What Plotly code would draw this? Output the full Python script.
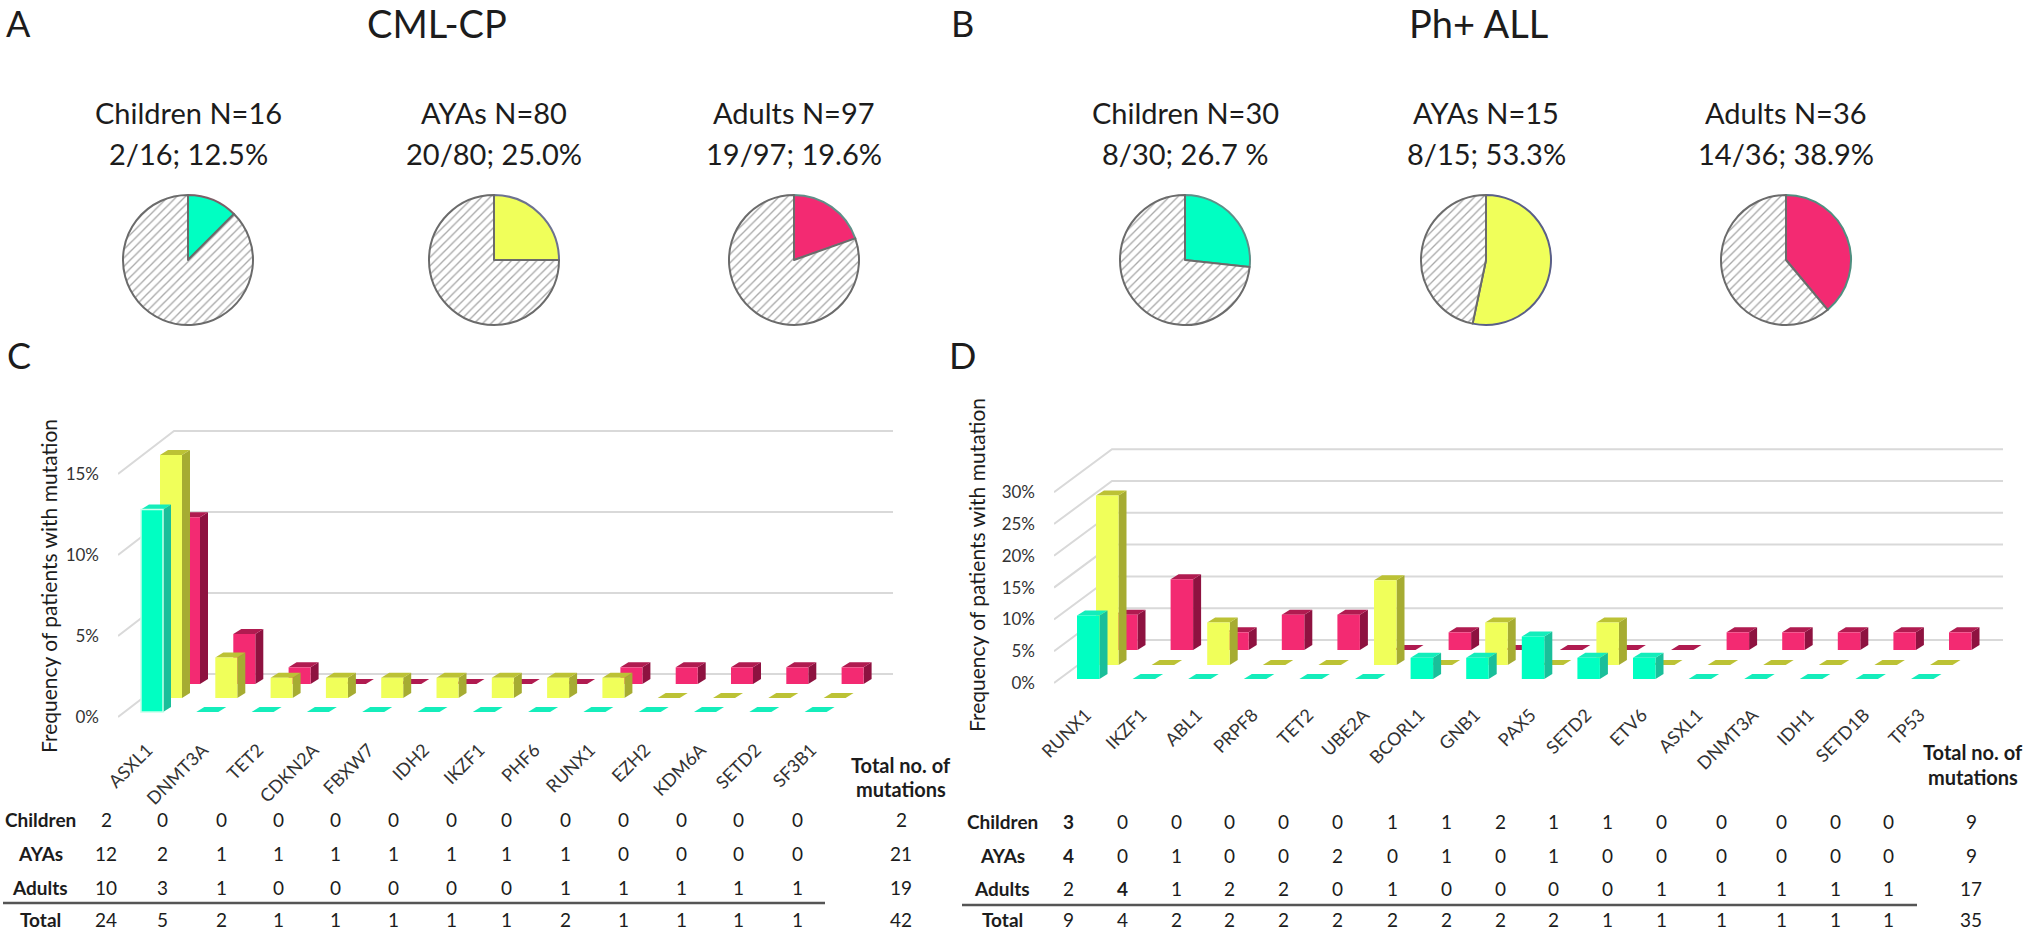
import plotly.graph_objects as go

W, H = 2025, 930
FONT = "Lato"

# ---------- data ----------
pie_titles = ["Children N=16", "AYAs N=80", "Adults N=97", "Children N=30", "AYAs N=15", "Adults N=36"]
pie_notes = ["2/16; 12.5%", "20/80; 25.0%", "19/97; 19.6%", "8/30; 26.7 %", "8/15; 53.3%", "14/36; 38.9%"]
pie_values = [12.5, 25.0, 19.6, 26.7, 53.3, 38.9]

c_genes = ["ASXL1", "DNMT3A", "TET2", "CDKN2A", "FBXW7", "IDH2", "IKZF1", "PHF6", "RUNX1", "EZH2", "KDM6A", "SETD2", "SF3B1"]
c_children_pct = [12.5, 0, 0, 0, 0, 0, 0, 0, 0, 0, 0, 0, 0]
c_ayas_pct = [15.0, 2.5, 1.25, 1.25, 1.25, 1.25, 1.25, 1.25, 1.25, 0, 0, 0, 0]
c_adults_pct = [10.3, 3.09, 1.03, 0, 0, 0, 0, 0, 1.03, 1.03, 1.03, 1.03, 1.03]
c_ticks = [0, 5, 10, 15]

c_children_n = [2, 0, 0, 0, 0, 0, 0, 0, 0, 0, 0, 0, 0]
c_ayas_n = [12, 2, 1, 1, 1, 1, 1, 1, 1, 0, 0, 0, 0]
c_adults_n = [10, 3, 1, 0, 0, 0, 0, 0, 1, 1, 1, 1, 1]
c_total_n = [24, 5, 2, 1, 1, 1, 1, 1, 2, 1, 1, 1, 1]
c_row_totals = [2, 21, 19, 42]

d_genes = ["RUNX1", "IKZF1", "ABL1", "PRPF8", "TET2", "UBE2A", "BCORL1", "GNB1", "PAX5", "SETD2", "ETV6", "ASXL1", "DNMT3A", "IDH1", "SETD1B", "TP53"]
d_children_pct = [10.0, 0, 0, 0, 0, 0, 3.33, 3.33, 6.67, 3.33, 3.33, 0, 0, 0, 0, 0]
d_ayas_pct = [26.67, 0, 6.67, 0, 0, 13.33, 0, 6.67, 0, 6.67, 0, 0, 0, 0, 0, 0]
d_adults_pct = [5.56, 11.11, 2.78, 5.56, 5.56, 0, 2.78, 0, 0, 0, 0, 2.78, 2.78, 2.78, 2.78, 2.78]
d_ticks = [0, 5, 10, 15, 20, 25, 30]

d_children_n = [3, 0, 0, 0, 0, 0, 1, 1, 2, 1, 1, 0, 0, 0, 0, 0]
d_ayas_n = [4, 0, 1, 0, 0, 2, 0, 1, 0, 1, 0, 0, 0, 0, 0, 0]
d_adults_n = [2, 4, 1, 2, 2, 0, 1, 0, 0, 0, 0, 1, 1, 1, 1, 1]
d_total_n = [9, 4, 2, 2, 2, 2, 2, 2, 2, 2, 1, 1, 1, 1, 1, 1]
d_row_totals = [9, 9, 17, 35]

row_names = ["Children", "AYAs", "Adults", "Total"]

# ---------- styles ----------
TEAL = dict(front="#00FFC2", side="#1ABF9A", top="#14EDBB")
YEL = dict(front="#F0FF5A", side="#A6AC32", top="#BCC235")
PINK = dict(front="#F32A72", side="#8E1240", top="#B01B50")
GRID = "#D9D9D9"
TXT = "#1c1c1c"

pie_cx = [188, 494, 794, 1185, 1486, 1786]
pie_cy = 260
pie_r = 65
pie_colors = [TEAL["front"], YEL["front"], PINK["front"], TEAL["front"], YEL["front"], PINK["front"]]
pie_edges = ["#7d6068", "#6d7290", "#5f8f88", "#5f8f88", "#5a5f88", "#4f8f80"]

fig = go.Figure()
annots = []


def text(x, y, s, size, bold=False, angle=0, color=TXT, anchor="center"):
    annots.append(dict(
        x=x / W, y=1 - y / H, xref="paper", yref="paper", text=f"<b>{s}</b>" if bold else str(s),
        showarrow=False, xanchor=anchor, yanchor="middle", textangle=angle,
        font=dict(family=FONT, size=size, color=color)))


# ---------- pies ----------
for cx, val, col, edge, t1, t2 in zip(pie_cx, pie_values, pie_colors, pie_edges, pie_titles, pie_notes):
    fig.add_trace(go.Pie(
        values=[val, 100 - val], sort=False, direction="clockwise", rotation=0,
        textinfo="none", hoverinfo="skip", showlegend=False,
        domain=dict(x=[(cx - pie_r) / W, (cx + pie_r) / W],
                    y=[1 - (pie_cy + pie_r) / H, 1 - (pie_cy - pie_r) / H]),
        marker=dict(colors=[col, "white"],
                    line=dict(color=[edge, "#6b6b6b"], width=2),
                    pattern=dict(shape=["", "/"], fgcolor="#a8a8a8", bgcolor="white", size=6, solidity=0.22)),
    ))
    text(cx, 113, t1, 29)
    text(cx, 153, t2, 29)

text(437, 23, "CML-CP", 38)
text(1478, 23, "Ph+ ALL", 38)
text(18, 23, "A", 36)
text(962, 23, "B", 36)
text(19, 355, "C", 36)
text(962, 355, "D", 36)


# ---------- 3D-looking bar panels ----------
def rows_order(rows, lifts):
    # pink (back), yellow, teal (front)
    pals = [TEAL, YEL, PINK]
    return [(rows[k], lifts[k], pals[k]) for k in (2, 1, 0)]


def panel(xa, ya, xname, yname, genes, rows, ticks, step, x_first, x_front, x_back, x_end,
          ppu, y_zero, y_bottom, y_top, lifts, back_lift, face, tickend, base_z, outline_first=False):
    n = len(genes)
    to_cat = lambda px: px / step
    to_pct = lambda px: px / ppu
    back_dx, back_dy = to_cat(x_back - x_front), to_pct(back_lift)
    x_low = (x_front - x_first) / step
    x_high = (x_end - x_first) / step

    gx, gy = [], []
    for t in ticks:
        gx += [x_low, x_low + back_dx, x_high, None]
        gy += [t, t + back_dy, t + back_dy, None]
    fig.add_trace(go.Scatter(x=gx, y=gy, mode="lines", line=dict(color=GRID, width=2), xaxis=xname, yaxis=yname,
                             showlegend=False, hoverinfo="skip", zorder=base_z))

    depth_x, depth_y = to_cat(8), to_pct(5)
    w = to_cat(face)
    z = base_z + 1
    for values, (off_px, lift_px), pal in rows_order(rows, lifts):
        off = to_cat(off_px)
        lift = to_pct(lift_px)
        tx, ty, sx, sy = [], [], [], []
        for i, v in enumerate(values):
            l = i + off
            r = l + w
            top = lift + v
            tx += [l, r, r + depth_x, l + depth_x, l, None]
            ty += [top, top, top + depth_y, top + depth_y, top, None]
            if v > 0:
                sx += [r, r + depth_x, r + depth_x, r, r, None]
                sy += [lift, lift + depth_y, top + depth_y, top, lift, None]
        edge_w = 0
        if outline_first and pal is TEAL:
            edge_w = [1.5] + [0] * (n - 1)
        for px, py, c in ((sx, sy, pal["side"]), (tx, ty, pal["top"])):
            fig.add_trace(go.Scatter(x=px, y=py, mode="lines", fill="toself", fillcolor=c, line=dict(width=0),
                                     xaxis=xname, yaxis=yname, showlegend=False, hoverinfo="skip", zorder=z))
            z += 1
        fig.add_trace(go.Bar(x=list(range(n)), y=values, base=lift, width=w, offset=off,
                             marker=dict(color=pal["front"], line=dict(width=edge_w, color="#C8FFEC")),
                             xaxis=xname, yaxis=yname, showlegend=False, hoverinfo="skip", zorder=z))
        z += 1

    fig.update_layout({
        xa: dict(domain=[x_front / W, x_end / W], range=[x_low, x_high], anchor=yname, showgrid=False,
                 zeroline=False, showline=False, ticks="", tickmode="array",
                 tickvals=[i + tickend for i in range(n)], ticktext=genes, tickangle=-45, automargin=False,
                 tickfont=dict(family=FONT, size=18, color="#333333"), ticklabelstandoff=0),
        ya: dict(domain=[1 - y_bottom / H, 1 - y_top / H],
                 range=[(y_zero - y_bottom) / ppu, (y_zero - y_top) / ppu], anchor=xname, showgrid=False,
                 zeroline=False, showline=False, ticks="", tickmode="array", tickvals=ticks, automargin=False,
                 ticktext=[f"{t}%" for t in ticks], tickfont=dict(family=FONT, size=17, color="#333333"),
                 ticklabelstandoff=18),
    })


panel("xaxis", "yaxis", "x", "y", c_genes, [c_children_pct, c_ayas_pct, c_adults_pct], c_ticks,
      55.3, 141, 118, 174, 893, 16.2, 717, 735, 400,
      [(0, 5), (19, 19), (37, 33)], 43, 22, 0.12, 1, outline_first=True)
panel("xaxis2", "yaxis2", "x2", "y2", d_genes, [d_children_pct, d_ayas_pct, d_adults_pct], d_ticks,
      55.6, 1077, 1054, 1112, 2003, 6.36, 683, 700, 400,
      [(0, 4), (19, 18), (38, 33)], 43, 22.5, 0.16, 50)

text(48, 586, "Frequency of patients with mutation", 21, angle=-90)
text(976, 565, "Frequency of patients with mutation", 21, angle=-90)

# ---------- count tables ----------
c_cols = [106, 162, 221, 278, 335, 393, 451, 507, 565, 623, 681, 738, 797]
c_rows_y = [819, 853, 887, 919]
d_cols = [1068, 1122, 1176, 1229, 1283, 1337, 1392, 1446, 1500, 1553, 1607, 1661, 1721, 1781, 1835, 1888]
d_rows_y = [821, 855, 888, 919]

for y, name, vals, tot in zip(c_rows_y, row_names, [c_children_n, c_ayas_n, c_adults_n, c_total_n], c_row_totals):
    text(40, y, name, 19, bold=True)
    for x, v in zip(c_cols, vals):
        text(x, y, v, 19)
    text(901, y, tot, 19)

for j, (y, name, vals, tot) in enumerate(zip(d_rows_y, row_names, [d_children_n, d_ayas_n, d_adults_n, d_total_n], d_row_totals)):
    text(1002, y, name, 19, bold=True)
    for k, (x, v) in enumerate(zip(d_cols, vals)):
        strong = (k == 0 and j < 2) or (k == 1 and j == 2)
        text(x, y, v, 19, bold=strong)
    text(1971, y, tot, 19)

text(901, 765, "Total no. of", 20, bold=True)
text(901, 789, "mutations", 20, bold=True)
text(1973, 752, "Total no. of", 20, bold=True)
text(1973, 777, "mutations", 20, bold=True)

shapes = [
    dict(type="line", xref="paper", yref="paper", x0=3 / W, x1=825 / W, y0=1 - 903 / H, y1=1 - 903 / H,
         line=dict(color="#555555", width=2.5)),
    dict(type="line", xref="paper", yref="paper", x0=962 / W, x1=1917 / W, y0=1 - 905 / H, y1=1 - 905 / H,
         line=dict(color="#555555", width=2.5)),
]

fig.update_layout(width=W, height=H, autosize=False,
                  margin=dict(l=0, r=0, t=0, b=0, pad=0, autoexpand=False), barmode="overlay",
                  plot_bgcolor="white", paper_bgcolor="white", showlegend=False, annotations=annots, shapes=shapes)

fig.write_html("out.html", post_script="document.body.style.margin='0';document.body.style.overflow='hidden';",
               config=dict(displayModeBar=False))
